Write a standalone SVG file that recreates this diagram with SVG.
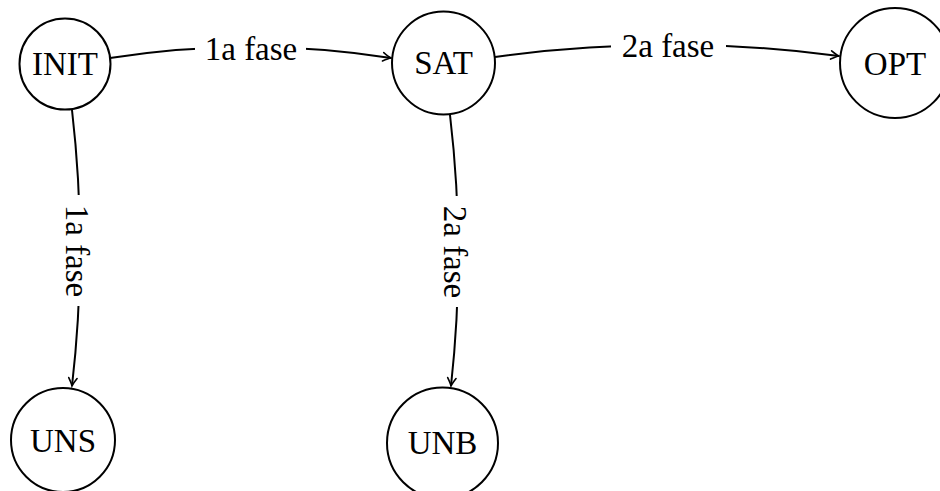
<svg xmlns="http://www.w3.org/2000/svg" width="940" height="491" viewBox="0 0 940 491">
<style>
.node circle{fill:#fff;stroke:#000;stroke-width:2}
text{font-family:"Liberation Serif","DejaVu Serif","Times New Roman",serif;font-size:33px;fill:#000;text-anchor:middle}
.edge{fill:none;stroke:#000;stroke-width:2}
.lblbg{fill:#fff;stroke:none}
</style>
<defs>
<marker id="arr" markerUnits="userSpaceOnUse" markerWidth="16" markerHeight="12" viewBox="-10 -6 12 12" refX="0" refY="0" orient="auto">
<path d="M-8,-4.2 Q-2.5,-0.8 0,0 Q-2.5,0.8 -8,4.2" fill="none" stroke="#000" stroke-width="1.6" stroke-linecap="round"/>
</marker>
</defs>
<rect width="940" height="491" fill="#fff"/>
<g id="connectors">
<path class="edge" d="M110,58 Q251,36 391,58" marker-end="url(#arr)"/>
<path class="edge" d="M495,57 Q667,33 839,56" marker-end="url(#arr)"/>
<path class="edge" d="M72,110 Q88,248 72,386" marker-end="url(#arr)"/>
<path class="edge" d="M450,115 Q466,250 451,386" marker-end="url(#arr)"/>
<rect class="lblbg" x="195" y="30" width="111" height="36"/>
<text x="251" y="60">1a fase</text>
<rect class="lblbg" x="611" y="28" width="115" height="36"/>
<text x="668" y="57">2a fase</text>
<rect class="lblbg" x="60" y="195" width="34" height="111"/>
<text transform="translate(77,251) rotate(90)" x="0" y="11">1a fase</text>
<rect class="lblbg" x="438" y="196" width="34" height="111"/>
<text transform="translate(455,252) rotate(90)" x="0" y="11">2a fase</text>
</g>
<g id="INIT" class="node"><circle cx="65" cy="64" r="45.5"/><text x="65" y="75">INIT</text></g>
<g id="SAT" class="node"><circle cx="443.5" cy="63" r="51.5"/><text x="443.5" y="74">SAT</text></g>
<g id="OPT" class="node"><circle cx="895" cy="63" r="55"/><text x="895" y="75">OPT</text></g>
<g id="UNS" class="node"><circle cx="63" cy="440" r="52"/><text x="63" y="452">UNS</text></g>
<g id="UNB" class="node"><circle cx="442.5" cy="443" r="55.5"/><text x="442.5" y="454">UNB</text></g>
</svg>
